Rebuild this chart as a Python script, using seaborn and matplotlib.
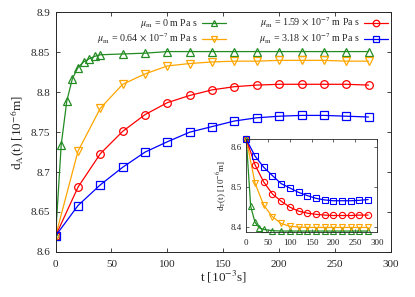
import numpy as np
import matplotlib
matplotlib.use("Agg")
import matplotlib.pyplot as plt
import pandas as pd
import seaborn as sns

# main plot: d_A(t)
t_fine = [0, 5, 10, 15, 20, 25, 30, 35, 40, 60, 80, 100, 120, 140, 160, 180, 200, 220, 240, 260, 280]
t_20 = [0, 20, 40, 60, 80, 100, 120, 140, 160, 180, 200, 220, 240, 260, 280]
dA_mu0 = [8.62, 8.734, 8.789, 8.817, 8.831, 8.838, 8.842, 8.845, 8.847, 8.848, 8.849,
          8.851, 8.851, 8.851, 8.851, 8.851, 8.851, 8.851, 8.851, 8.851, 8.851]
dA_mu064 = [8.62, 8.726, 8.780, 8.810, 8.823, 8.833, 8.836, 8.838, 8.839, 8.839, 8.840,
            8.840, 8.840, 8.839, 8.839]
dA_mu159 = [8.62, 8.681, 8.723, 8.751, 8.772, 8.787, 8.796, 8.803, 8.807, 8.809, 8.810,
            8.810, 8.810, 8.810, 8.809]
dA_mu318 = [8.62, 8.658, 8.684, 8.706, 8.725, 8.738, 8.750, 8.757, 8.764, 8.768, 8.770,
            8.771, 8.771, 8.770, 8.769]

# inset: d_T(t)
t_in_green = [0, 10, 20, 30, 40, 60, 80, 100, 120, 140, 160, 180, 200, 220, 240, 260, 280]
dT_mu0 = [8.62, 8.452, 8.412, 8.398, 8.394, 8.391, 8.390, 8.390, 8.390, 8.390, 8.390,
          8.390, 8.390, 8.390, 8.390, 8.390, 8.390]
dT_mu064 = [8.62, 8.510, 8.455, 8.426, 8.409, 8.402, 8.400, 8.399, 8.399, 8.399, 8.399,
            8.399, 8.399, 8.399, 8.399]
dT_mu159 = [8.62, 8.556, 8.513, 8.483, 8.465, 8.450, 8.440, 8.435, 8.432, 8.430, 8.429,
            8.429, 8.429, 8.430, 8.430]
dT_mu318 = [8.62, 8.578, 8.550, 8.529, 8.509, 8.498, 8.487, 8.479, 8.472, 8.468, 8.466,
            8.466, 8.466, 8.467, 8.469]

labels = [r"$\mu_{\rm m}$ = 0 m Pa s",
          r"$\mu_{\rm m}$ = 0.64 $\times$ 10$^{-7}$ m Pa s",
          r"$\mu_{\rm m}$ = 1.59 $\times$ 10$^{-7}$ m Pa s",
          r"$\mu_{\rm m}$ = 3.18 $\times$ 10$^{-7}$ m Pa s"]
colors = ["#228b22", "#ffa500", "#ff0000", "#0000ff"]
markers = ["^", "v", "o", "s"]

sns.set_style("ticks")
plt.rcParams['font.family'] = ['Liberation Serif', 'DejaVu Serif']
plt.rcParams['mathtext.fontset'] = 'stix'
plt.rcParams['xtick.direction'] = 'in'
plt.rcParams['ytick.direction'] = 'in'

fig = plt.figure(figsize=(4.15, 2.97), dpi=100)
ax = fig.add_axes([0.134, 0.152, 0.808, 0.806])

main_sets = [(t_fine, dA_mu0), (t_20, dA_mu064), (t_20, dA_mu159), (t_20, dA_mu318)]
for (tt, yy), lab, c, m in zip(main_sets, labels, colors, markers):
    df = pd.DataFrame({"t": tt, "d": yy})
    sns.lineplot(data=df, x="t", y="d", ax=ax, color=c, marker=m, markersize=5.5,
                 markerfacecolor="none", markeredgecolor=c, markeredgewidth=0.9,
                 linewidth=0.9, label=lab)

ax.set_xlim(0, 300)
ax.set_ylim(8.6, 8.9)
ax.set_xticks(np.arange(0, 301, 50))
ax.set_yticks([8.6, 8.65, 8.7, 8.75, 8.8, 8.85, 8.9])
ax.set_yticklabels(["8.6", "8.65", "8.7", "8.75", "8.8", "8.85", "8.9"])
ax.tick_params(labelsize=8, top=True, right=True, length=3, width=0.6, pad=4)
ax.tick_params(axis="x", pad=6)
for s in ax.spines.values():
    s.set_linewidth(0.7)
ax.set_xlabel(r"t [10$^{-3}$s]", fontsize=9.5, labelpad=0)
ax.set_ylabel(r"d$_{\rm A}$(t) [10$^{-6}$m]", fontsize=9.5, labelpad=3)
leg = ax.legend(ncol=2, loc="upper right", frameon=False, markerfirst=False,
                fontsize=7.2, handlelength=2.4, columnspacing=3.3,
                labelspacing=0.05, borderaxespad=0.0, borderpad=0.3,
                handletextpad=0.4, handleheight=0.5, markerscale=0.85)

# inset
axi = fig.add_axes([0.5935, 0.218, 0.3145, 0.313])
in_sets = [(t_in_green, dT_mu0), (t_20, dT_mu064), (t_20, dT_mu159), (t_20, dT_mu318)]
for (tt, yy), c, m in zip(in_sets, colors, markers):
    df = pd.DataFrame({"t": tt, "d": yy})
    sns.lineplot(data=df, x="t", y="d", ax=axi, color=c, marker=m, markersize=4.5,
                 markerfacecolor="none", markeredgecolor=c, markeredgewidth=0.8,
                 linewidth=0.9, legend=False, clip_on=False)
axi.set_xlim(0, 300)
axi.set_ylim(8.387, 8.62)
axi.set_xticks(np.arange(0, 301, 50))
axi.set_yticks([8.4, 8.5, 8.6])
axi.tick_params(labelsize=6.5, top=True, right=True, length=2.5, width=0.5, pad=3)
axi.tick_params(axis="x", pad=5)
for s in axi.spines.values():
    s.set_linewidth(0.6)
axi.set_xlabel("")
axi.set_ylabel(r"d$_{\rm T}$(t) [10$^{-6}$m]", fontsize=6.5, labelpad=2)

fig.savefig("out.png", dpi=100)
